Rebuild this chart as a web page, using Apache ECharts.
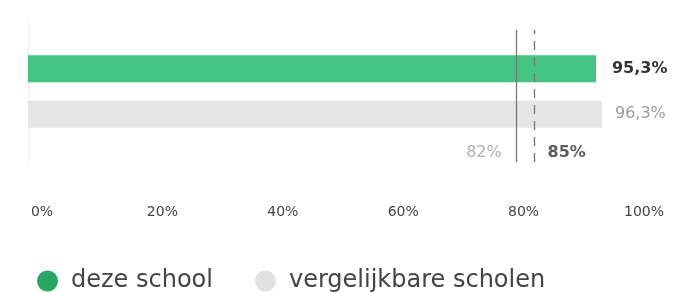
<!DOCTYPE html>
<html>
<head>
<meta charset="utf-8">
<script src="https://cdn.jsdelivr.net/npm/echarts@6/dist/echarts.min.js"></script>
<style>html,body{margin:0;padding:0;background:#fff}#c{width:675px;height:293px}</style>
</head>
<body>
<div id="c"></div>
<script>
var categories = ['deze school', 'vergelijkbare scholen'];
var schoolValues = [95.3, '-'];
var compareValues = ['-', 96.3];
var refValues = [82, 85];
var tickValues = [0, 20, 40, 60, 80, 100];

function nl(v) { return String(v).replace('.', ',') + '%'; }
var FONT = '"DejaVu Sans", "Open Sans", sans-serif';

var chart = echarts.init(document.getElementById('c'));
chart.setOption({
  animation: false,
  textStyle: { fontFamily: FONT },
  grid: [
    { left: 28, width: 596, top: 46, height: 91 },
    { left: 28, width: 596, top: 30, height: 132 },
    { left: 42, right: 31, top: 190, height: 5 },
    { left: 28, width: 596, top: 20, height: 144 }
  ],
  xAxis: [
    { gridIndex: 0, type: 'value', min: 0, max: 100, show: false },
    { gridIndex: 1, type: 'value', min: 0, max: 100, show: false },
    { gridIndex: 2, type: 'value', min: 0, max: 100, interval: 20,
      axisLine: { show: false }, axisTick: { show: false }, splitLine: { show: false },
      axisLabel: { formatter: '{value}%', fontSize: 14, fontWeight: 'normal', color: '#444', margin: 10, fontFamily: FONT } },
    { gridIndex: 3, type: 'value', min: 0, max: 100, show: false }
  ],
  yAxis: [
    { gridIndex: 0, type: 'category', data: categories, inverse: true, show: false },
    { gridIndex: 1, type: 'value', min: 0, max: 1, show: false },
    { gridIndex: 2, type: 'value', show: false },
    { gridIndex: 3, type: 'value', min: 0, max: 1, axisLabel: { show: false }, axisTick: { show: false },
      splitLine: { show: false }, axisLine: { show: true, lineStyle: { color: '#f0f0f0', width: 1 } } }
  ],
  legend: {
    left: 32, top: 264, itemWidth: 21, itemHeight: 21, itemGap: 42, icon: 'circle',
    textStyle: { fontSize: 24, color: '#444', fontFamily: FONT, padding: [0, 0, 0, 8] },
    data: [
      { name: 'deze school', itemStyle: { color: '#26a766' } },
      { name: 'vergelijkbare scholen', itemStyle: { color: '#e2e2e2' } }
    ]
  },
  series: [
    { name: 'deze school', type: 'bar', xAxisIndex: 0, yAxisIndex: 0, data: schoolValues,
      barWidth: 27, barGap: '-100%', itemStyle: { color: '#44c584' },
      label: { show: true, position: 'right', distance: 16, formatter: function (p) { return nl(p.value); },
        fontSize: 16, fontWeight: 'bold', color: '#333', fontFamily: FONT } },
    { name: 'vergelijkbare scholen', type: 'bar', xAxisIndex: 0, yAxisIndex: 0, data: compareValues,
      barWidth: 27, barGap: '-100%', itemStyle: { color: '#e6e6e6' },
      label: { show: true, position: 'right', distance: 13, formatter: function (p) { return nl(p.value); },
        fontSize: 16, color: '#9a9a9a', fontFamily: FONT } },
    { name: 'ref', type: 'scatter', xAxisIndex: 1, yAxisIndex: 1, symbolSize: 0,
      data: [
        { value: [refValues[0], 0], label: { position: 'left', distance: 15, color: '#9a9a9a', fontWeight: 'normal' } },
        { value: [refValues[1], 0], label: { position: 'right', distance: 13, color: '#333', fontWeight: 'bold' } }
      ],
      label: { show: true, formatter: function (p) { return p.value[0] + '%'; }, fontSize: 16, offset: [0, -9], fontFamily: FONT },
      markLine: {
        silent: true, symbol: ['none', 'none'], label: { show: false },
        data: [
          { xAxis: refValues[0], lineStyle: { color: '#777', width: 1.3, type: 'solid' } },
          { xAxis: refValues[1], lineStyle: { color: '#777', width: 1.3, type: [9, 7] } }
        ]
      }
    }
  ]
});
</script>
</body>
</html>
